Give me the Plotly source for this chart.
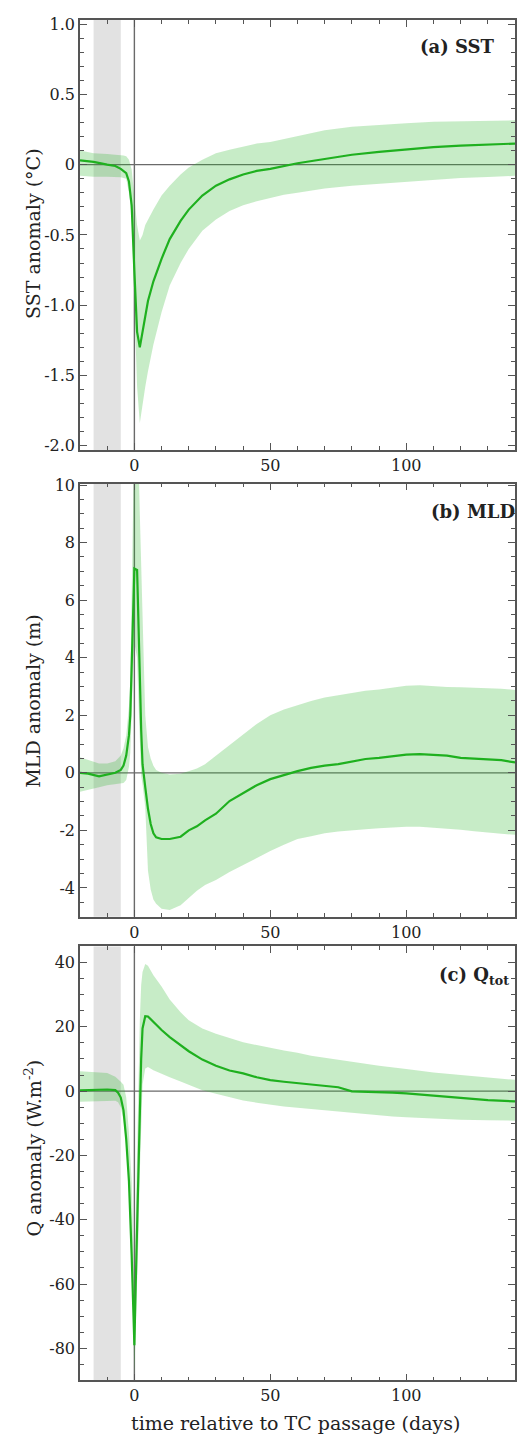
import plotly.graph_objects as go

# ---- (a) SST anomaly (degC) ----
days_sst = [-20, -15, -10, -7, -5, -4, -3, -2, -1, 0, 1, 2, 3, 4, 5, 7, 10, 13, 17, 20,
            25, 30, 35, 40, 45, 50, 55, 60, 70, 80, 90, 100, 110, 120, 130, 140]
sst_mean = [0.03, 0.02, 0.0, -0.01, -0.03, -0.045, -0.06, -0.12, -0.29, -0.76, -1.19, -1.3,
            -1.19, -1.07, -0.97, -0.83, -0.67, -0.53, -0.4, -0.32, -0.22, -0.15, -0.105,
            -0.07, -0.045, -0.03, -0.012, 0.01, 0.04, 0.07, 0.09, 0.11, 0.125, 0.135, 0.145, 0.15]
sst_upper = [0.1, 0.08, 0.075, 0.072, 0.07, 0.065, 0.06, 0.035, -0.035, -0.25, -0.43, -0.54,
             -0.5, -0.43, -0.39, -0.32, -0.22, -0.15, -0.07, -0.02, 0.035, 0.08, 0.105, 0.13,
             0.15, 0.16, 0.18, 0.2, 0.245, 0.27, 0.285, 0.295, 0.305, 0.31, 0.313, 0.315]
sst_lower = [-0.08, -0.087, -0.087, -0.088, -0.09, -0.095, -0.1, -0.2, -0.36, -1.0, -1.58, -1.84,
             -1.7, -1.58, -1.47, -1.28, -1.05, -0.86, -0.7, -0.6, -0.47, -0.39, -0.33, -0.29,
             -0.26, -0.235, -0.215, -0.2, -0.17, -0.15, -0.135, -0.12, -0.105, -0.095, -0.088, -0.08]

# ---- (b) MLD anomaly (m) ----
days_mld = [-20, -17, -13, -10, -7, -5, -4, -3, -2, -1.5, -1, -0.5, 0, 1, 1.5, 2, 2.5, 3, 4, 5,
            6, 7, 8, 10, 13, 17, 20, 23, 26, 30, 35, 40, 45, 50, 55, 60, 65, 70, 75, 80, 85,
            90, 95, 100, 105, 110, 115, 120, 125, 130, 135, 140]
mld_mean = [0.0, -0.03, -0.12, -0.05, 0.0, 0.1, 0.25, 0.6, 1.3, 2.0, 4.0, 5.8, 7.1, 7.05, 5.6,
            3.4, 1.5, 0.3, -0.5, -1.25, -1.78, -2.1, -2.24, -2.3, -2.3, -2.22, -2.0, -1.86,
            -1.65, -1.42, -0.98, -0.7, -0.43, -0.22, -0.08, 0.06, 0.17, 0.25, 0.3, 0.38, 0.48,
            0.52, 0.58, 0.63, 0.65, 0.63, 0.6, 0.52, 0.5, 0.47, 0.44, 0.36]
mld_upper = [0.54, 0.45, 0.32, 0.32, 0.4, 0.6, 0.85, 1.3, 2.3, 3.2, 5.5, 8.5, 12.0, 12.0, 11.0,
             9.0, 7.0, 5.0, 2.0, 0.9, 0.5, 0.25, 0.1, 0.0, -0.06, -0.03, 0.05, 0.15, 0.3, 0.6,
             0.95, 1.35, 1.7, 2.0, 2.2, 2.35, 2.5, 2.62, 2.7, 2.78, 2.85, 2.9, 2.97, 3.03, 3.04,
             3.0, 2.98, 2.97, 2.96, 2.94, 2.92, 2.88]
mld_lower = [-0.66, -0.6, -0.5, -0.43, -0.4, -0.38, -0.35, -0.25, 0.2, 0.7, 2.5, 3.5, 4.5, 4.0,
             2.5, 0.8, -0.1, -0.4, -1.2, -3.4, -4.05, -4.4, -4.55, -4.72, -4.77, -4.6, -4.35,
             -4.1, -3.9, -3.72, -3.45, -3.2, -2.95, -2.72, -2.5, -2.3, -2.2, -2.1, -2.04, -1.99,
             -1.96, -1.93, -1.9, -1.87, -1.87, -1.9, -1.93, -1.98, -2.03, -2.08, -2.12, -2.15]

# ---- (c) net heat flux anomaly (W m-2) ----
days_q = [-20, -15, -10, -7, -6, -5, -4, -3, -2, -1, -0.5, 0, 0.5, 1, 1.5, 2, 2.5, 3, 4, 5, 7,
          10, 13, 17, 20, 25, 30, 35, 40, 45, 50, 55, 60, 65, 70, 75, 80, 85, 90, 95, 100, 110,
          120, 130, 140]
q_mean = [0.2, 0.4, 0.5, 0.3, -0.5, -2.0, -6.0, -15.0, -28.0, -51.0, -65.0, -79.0, -60.0, -42.0,
          -23.0, -5.0, 10.0, 19.5, 23.3, 23.2, 21.5, 19.0, 16.8, 14.3, 12.4, 9.8, 7.9, 6.4, 5.5,
          4.3, 3.4, 2.9, 2.5, 2.1, 1.8, 1.2, -0.1, -0.2, -0.2, -0.5, -0.7, -1.3, -2.1, -2.8, -3.2]
q_upper = [6.2, 5.8, 5.6, 4.5, 3.8, 2.9, 2.0, -2.0, -13.0, -28.0, -45.0, -70.0, -40.0, -15.0,
           5.0, 22.0, 33.0, 37.0, 39.5, 39.0, 36.0, 32.5, 28.5, 24.5, 22.0, 19.5, 17.8, 16.5,
           15.2, 14.3, 13.4, 12.6, 11.9, 11.0, 10.4, 9.7, 9.1, 8.5, 7.9, 7.3, 6.9, 5.8, 5.0,
           4.2, 3.5]
q_lower = [-3.3, -3.1, -2.9, -3.0, -3.5, -5.0, -9.0, -17.0, -30.0, -55.0, -70.0, -88.0, -75.0,
           -60.0, -45.0, -25.0, -8.0, 2.0, 7.0, 7.5, 6.5, 5.3, 4.3, 3.0, 2.0, 0.3, -0.8, -1.9,
           -2.9, -3.6, -4.3, -4.8, -5.2, -5.6, -6.0, -6.4, -6.8, -7.2, -7.6, -7.9, -8.1, -8.6,
           -8.9, -9.1, -9.2]

# axis ticks and labels
x_ticks = [0, 50, 100]
x_minor = list(range(-20, 141, 10))
sst_ticks = [1.0, 0.5, 0.0, -0.5, -1.0, -1.5, -2.0]
sst_ticktext = ["1.0", "0.5", "0", "-0.5", "-1.0", "-1.5", "-2.0"]
mld_ticks = [10, 8, 6, 4, 2, 0, -2, -4]
q_ticks = [40, 20, 0, -20, -40, -60, -80]

FONT = "DejaVu Serif"
AX = "#555555"
LINE_GREEN = "#1fb01f"
BAND = "rgba(40,180,40,0.26)"

fig = go.Figure()

panels = [
    ("x", "y", days_sst, sst_mean, sst_upper, sst_lower),
    ("x2", "y2", days_mld, mld_mean, mld_upper, mld_lower),
    ("x3", "y3", days_q, q_mean, q_upper, q_lower),
]
for xa, ya, d, m, up, lo in panels:
    fig.add_trace(go.Scatter(x=d, y=up, xaxis=xa, yaxis=ya, mode="lines",
                             line=dict(width=0, color=BAND), hoverinfo="skip", showlegend=False))
    fig.add_trace(go.Scatter(x=d, y=lo, xaxis=xa, yaxis=ya, mode="lines", fill="tonexty",
                             fillcolor=BAND, line=dict(width=0, color=BAND),
                             hoverinfo="skip", showlegend=False))
    fig.add_trace(go.Scatter(x=d, y=m, xaxis=xa, yaxis=ya, mode="lines",
                             line=dict(width=2.2, color=LINE_GREEN), showlegend=False))

    # pre-storm reference window, zero lines
    fig.add_shape(type="rect", xref=xa, yref=ya + " domain", x0=-15, x1=-5, y0=0, y1=1,
                  fillcolor="#e2e2e2", line=dict(width=0), layer="below")
    fig.add_shape(type="line", xref=xa, yref=ya + " domain", x0=0, x1=0, y0=0, y1=1,
                  line=dict(color="#6a6a6a", width=1.4), layer="below")
    fig.add_shape(type="line", xref=xa + " domain", yref=ya, x0=0, x1=1, y0=0, y1=0,
                  line=dict(color="#6a6a6a", width=1.4), layer="below")

tickfont = dict(family=FONT, size=16, color="#222222")


def xaxis_style(anchor):
    return dict(range=[-20, 140], anchor=anchor, domain=[0, 1],
                tickmode="array", tickvals=x_ticks, ticktext=[str(v) for v in x_ticks],
                ticks="inside", ticklen=7, tickwidth=1.2, tickcolor=AX,
                minor=dict(tickmode="array", tickvals=x_minor, ticks="inside", ticklen=4,
                           tickwidth=1.1, tickcolor=AX),
                showline=True, linecolor=AX, linewidth=1.5, mirror="allticks",
                showgrid=False, zeroline=False, tickfont=tickfont)


def yaxis_style(anchor, dom, rng, tv, tt, minor_step):
    return dict(range=rng, anchor=anchor, domain=dom,
                tickmode="array", tickvals=tv, ticktext=tt,
                ticks="inside", ticklen=7, tickwidth=1.2, tickcolor=AX,
                minor=dict(dtick=minor_step, tick0=0, ticks="inside", ticklen=4,
                           tickwidth=1.1, tickcolor=AX),
                showline=True, linecolor=AX, linewidth=1.5, mirror="allticks",
                showgrid=False, zeroline=False, tickfont=tickfont)


fig.update_layout(
    width=517, height=1440,
    margin=dict(l=80, r=1, t=0, b=0),
    plot_bgcolor="white", paper_bgcolor="white",
    xaxis=xaxis_style("y"),
    xaxis2=xaxis_style("y2"),
    xaxis3=xaxis_style("y3"),
    yaxis=yaxis_style("x", [0.6903, 0.9917], [-2.03, 1.03], sst_ticks, sst_ticktext, 0.1),
    yaxis2=yaxis_style("x2", [0.3632, 0.6667], [-5, 10.05], mld_ticks,
                       [str(v) for v in mld_ticks], 0.5),
    yaxis3=yaxis_style("x3", [0.0382, 0.3424], [-90, 45], q_ticks,
                       [str(v) for v in q_ticks], 5),
    showlegend=False,
)

ann_font = dict(family=FONT, size=19, color="#222222")
label_font = dict(family=FONT, size=18, color="#222222")

annotations = [
    dict(text="SST anomaly (°C)", x=-0.108, y=0.8417, textangle=-90),
    dict(text="MLD anomaly (m)", x=-0.108, y=0.5139, textangle=-90),
    dict(text="Q anomaly (W.m<sup>-2</sup>)", x=-0.108, y=0.2007, textangle=-90),
    dict(text="time relative to TC passage (days)", x=0.4954, y=0.0083, textangle=0),
]
for a in annotations:
    fig.add_annotation(xref="paper", yref="paper", showarrow=False, font=ann_font,
                       xanchor="center", yanchor="middle", **a)

fig.add_annotation(text="<b>(a) SST</b>", xref="paper", yref="paper", x=0.9587, y=0.9729,
                   xanchor="right", yanchor="middle", showarrow=False, font=label_font)
fig.add_annotation(text="<b>(b) MLD</b>", xref="paper", yref="paper", x=0.803, y=0.6472,
                   xanchor="left", yanchor="middle", showarrow=False, font=label_font)
fig.add_annotation(text="<b>(c) Q<sub>tot</sub></b>", xref="paper", yref="paper", x=0.82,
                   y=0.3215, xanchor="left", yanchor="middle", showarrow=False, font=label_font)

fig.write_html("out.html")
